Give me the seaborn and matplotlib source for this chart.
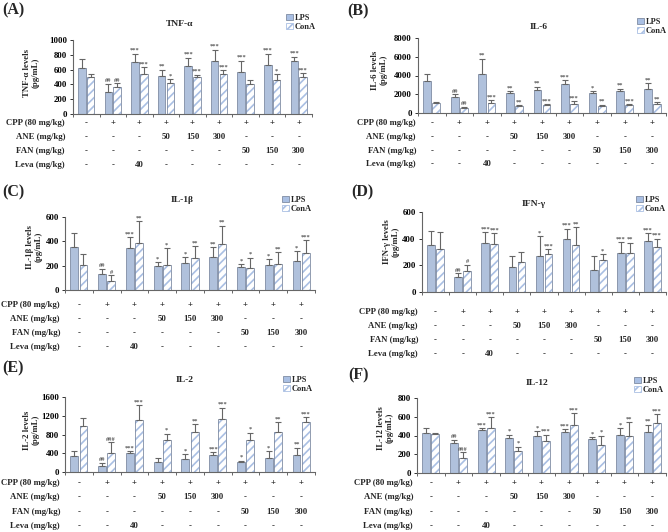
import numpy as np
import pandas as pd
import matplotlib
matplotlib.use("Agg")
import matplotlib.pyplot as plt
import matplotlib.transforms as mtransforms
from matplotlib.patches import Patch, Rectangle
import seaborn as sns

sns.set_style("white")
plt.rcParams['font.family'] = ['Liberation Serif', 'DejaVu Serif']
plt.rcParams['font.weight'] = 'bold'
plt.rcParams['hatch.linewidth'] = 1.2

# groups and treatment table
groups = ['G1', 'G2', 'G3', 'G4', 'G5', 'G6', 'G7', 'G8', 'G9']
row_names = ['CPP (80 mg/kg)', 'ANE (mg/kg)', 'FAN (mg/kg)', 'Leva (mg/kg)']
cpp = ['-', '+', '+', '+', '+', '+', '+', '+', '+']
ane = ['-', '-', '-', '50', '150', '300', '-', '-', '-']
fan = ['-', '-', '-', '-', '-', '-', '50', '150', '300']
leva = ['-', '-', '40', '-', '-', '-', '-', '-', '-']

# TNF-a
tnf_lps = [625, 300, 700, 515, 645, 720, 570, 665, 710]
tnf_lps_sd = [125, 110, 115, 85, 115, 150, 150, 150, 65]
tnf_cona = [505, 360, 545, 425, 495, 545, 400, 465, 505]
tnf_cona_sd = [40, 55, 85, 45, 35, 50, 60, 70, 50]
tnf_lps_sig = ['', '##', '***', '**', '***', '***', '***', '***', '***']
tnf_cona_sig = ['', '##', '***', '*', '***', '***', '', '*', '***']

# IL-6
il6_lps = [3400, 1700, 4150, 2150, 2450, 3100, 2100, 2300, 2600]
il6_lps_sd = [800, 300, 1650, 150, 350, 400, 200, 300, 550]
il6_cona = [1050, 550, 1050, 750, 850, 1000, 800, 900, 950]
il6_cona_sd = [150, 100, 300, 80, 70, 250, 100, 50, 200]
il6_lps_sig = ['', '##', '**', '**', '**', '***', '*', '**', '**']
il6_cona_sig = ['', '##', '***', '**', '***', '***', '**', '***', '**']

# IL-1b
il1b_lps = [355, 130, 345, 195, 220, 275, 185, 205, 235]
il1b_lps_sd = [110, 45, 90, 35, 50, 75, 25, 50, 85]
il1b_cona = [205, 70, 385, 205, 265, 375, 180, 215, 305]
il1b_cona_sd = [90, 50, 180, 140, 95, 155, 85, 95, 105]
il1b_lps_sig = ['', '##', '***', '*', '*', '**', '*', '*', '*']
il1b_cona_sig = ['', '#', '**', '*', '**', '**', '*', '**', '***']

# IFN-g
ifn_lps = [350, 115, 365, 185, 270, 400, 165, 295, 385]
ifn_lps_sd = [110, 25, 85, 85, 150, 75, 105, 80, 55]
ifn_cona = [325, 160, 360, 225, 285, 350, 240, 295, 340]
ifn_cona_sd = [125, 45, 80, 75, 35, 135, 45, 75, 60]
ifn_lps_sig = ['', '##', '***', '', '*', '***', '', '***', '***']
ifn_cona_sig = ['', '#', '***', '', '***', '**', '*', '**', '***']

# IL-2
il2_lps = [345, 130, 400, 210, 270, 370, 215, 295, 360]
il2_lps_sd = [100, 70, 40, 80, 110, 60, 30, 150, 160]
il2_cona = [985, 410, 1120, 680, 845, 1135, 675, 845, 1065]
il2_cona_sd = [160, 220, 310, 140, 180, 240, 165, 220, 100]
il2_lps_sig = ['', '##', '***', '', '*', '***', '*', '*', '**']
il2_cona_sig = ['', '###', '***', '*', '**', '***', '*', '**', '***']

# IL-12
il12_lps = [430, 315, 460, 370, 395, 440, 365, 405, 440]
il12_lps_sd = [50, 40, 20, 40, 55, 30, 15, 75, 75]
il12_cona = [415, 165, 480, 230, 345, 510, 295, 390, 535]
il12_cona_sd = [15, 55, 115, 50, 65, 130, 105, 155, 95]
il12_lps_sig = ['', '##', '***', '*', '*', '***', '*', '*', '**']
il12_cona_sig = ['', '###', '***', '*', '***', '***', '*', '**', '***']

W, H = 668, 532
BLUE = '#a9bfe3'
EDGE = '#7f8ca3'
ERR = '#666666'

fig = plt.figure(figsize=(W / 100, H / 100), dpi=100)

# panel layout in pixels: axes box (l, r, top, bottom), label, title, legend corner, ylabel, table rows
panels = [
    dict(tag='(A)', name='TNF-α', ylab='TNF-α levels\n(pg/mL)', ymax=1000, step=200,
         lps=tnf_lps, lps_sd=tnf_lps_sd, cona=tnf_cona, cona_sd=tnf_cona_sd,
         lsig=tnf_lps_sig, csig=tnf_cona_sig,
         box=(73, 312, 40, 114), tagxy=(2, 10), titlexy=(180, 24), legxy=(316, 14),
         ylabxy=(31, 73), rows=(123, 137, 151, 165), rowx=65),
    dict(tag='(B)', name='IL-6', ylab='IL-6 levels\n(pg/mL)', ymax=8000, step=2000,
         lps=il6_lps, lps_sd=il6_lps_sd, cona=il6_cona, cona_sd=il6_cona_sd,
         lsig=il6_lps_sig, csig=il6_cona_sig,
         box=(418, 666, 38, 113), tagxy=(347, 11), titlexy=(539, 27), legxy=(667, 18),
         ylabxy=(379, 70), rows=(123, 137, 151, 164), rowx=416),
    dict(tag='(C)', name='IL-1β', ylab='IL-1β levels\n(pg/mL)', ymax=600, step=200,
         lps=il1b_lps, lps_sd=il1b_lps_sd, cona=il1b_cona, cona_sd=il1b_cona_sd,
         lsig=il1b_lps_sig, csig=il1b_cona_sig,
         box=(65, 315, 217, 290), tagxy=(2, 192), titlexy=(182, 200), legxy=(312, 196),
         ylabxy=(34, 247), rows=(305, 319, 333, 347), rowx=60),
    dict(tag='(D)', name='IFN-γ', ylab='IFN-γ levels\n(pg/mL)', ymax=600, step=200,
         lps=ifn_lps, lps_sd=ifn_lps_sd, cona=ifn_cona, cona_sd=ifn_cona_sd,
         lsig=ifn_lps_sig, csig=ifn_cona_sig,
         box=(422, 666, 212, 292), tagxy=(351, 192), titlexy=(534, 204), legxy=(666, 196),
         ylabxy=(391, 242), rows=(312, 326, 340, 354), rowx=418),
    dict(tag='(E)', name='IL-2', ylab='IL-2 levels\n(pg/mL)', ymax=1600, step=400,
         lps=il2_lps, lps_sd=il2_lps_sd, cona=il2_cona, cona_sd=il2_cona_sd,
         lsig=il2_lps_sig, csig=il2_cona_sig,
         box=(65, 315, 397, 472), tagxy=(2, 368), titlexy=(185, 380), legxy=(313, 376),
         ylabxy=(31, 430), rows=(483, 497, 512, 526), rowx=60),
    dict(tag='(F)', name='IL-12', ylab='IL-12 levels\n(pg/mL)', ymax=800, step=200,
         lps=il12_lps, lps_sd=il12_lps_sd, cona=il12_cona, cona_sd=il12_cona_sd,
         lsig=il12_lps_sig, csig=il12_cona_sig,
         box=(417, 666, 398, 473), tagxy=(348, 375), titlexy=(537, 383), legxy=(664, 377),
         ylabxy=(385, 428), rows=(483, 497, 512, 526), rowx=413),
]

table = [cpp, ane, fan, leva]


def fx(px):
    return px / W


def fy(py):
    return 1 - py / H


for p in panels:
    l, r, t, b = p['box']
    ax = fig.add_axes([fx(l), fy(b), (r - l) / W, (b - t) / H])
    df = pd.DataFrame({
        'group': groups * 2,
        'stim': ['LPS'] * 9 + ['ConA'] * 9,
        'value': p['lps'] + p['cona'],
    })
    sns.barplot(data=df, x='group', y='value', hue='stim', order=groups,
                hue_order=['LPS', 'ConA'], palette=[BLUE, 'white'], width=0.66,
                gap=0.14, errorbar=None, legend=False, ax=ax,
                edgecolor=EDGE, linewidth=0.6)
    bars = ax.patches[:18]
    lps_bars, cona_bars = bars[:9], bars[9:]
    for bar in cona_bars:
        bar.set_hatch('////')
        bar.set_edgecolor(BLUE)
        bar.set_linewidth(0)
        ax.add_patch(Rectangle((bar.get_x(), bar.get_y()), bar.get_width(), bar.get_height(),
                               fill=False, edgecolor=EDGE, linewidth=0.6, zorder=bar.get_zorder() + 0.1))

    for bset, sd, sig in [(lps_bars, p['lps_sd'], p['lsig']), (cona_bars, p['cona_sd'], p['csig'])]:
        xs = [bb.get_x() + bb.get_width() / 2 for bb in bset]
        ys = [bb.get_height() for bb in bset]
        ax.errorbar(xs, ys, yerr=[np.zeros(9), sd], fmt='none', ecolor=ERR,
                    elinewidth=0.8, capsize=2.2, capthick=0.8, zorder=5)
        for xx, yy, ss, s in zip(xs, ys, sd, sig):
            if s:
                ax.annotate(s, (xx, yy + ss), xytext=(0, 0.5), textcoords='offset points',
                            ha='center', va='bottom', fontsize=4.6, color='#555555')

    ax.set_xlim(-0.5, 8.5)
    ax.set_ylim(0, p['ymax'])
    ax.set_yticks(np.arange(0, p['ymax'] + 1, p['step']))
    ax.set_xticks(np.arange(-0.5, 9, 1))
    ax.set_xticklabels([])
    ax.set_xlabel('')
    ax.set_ylabel('')
    ax.tick_params(axis='y', labelsize=6.3, length=2.5, width=0.7, pad=2, colors='#333333',
                   direction='out', left=True)
    ax.tick_params(axis='x', length=2.5, width=0.7, direction='out', bottom=True, colors='#666666')
    for lab in ax.get_yticklabels():
        lab.set_color('black')
        lab.set_fontweight('bold')
    sns.despine(ax=ax)
    for sp in ['left', 'bottom']:
        ax.spines[sp].set_color('#666666')
        ax.spines[sp].set_linewidth(0.8)

    # treatment table under the axis
    tr = mtransforms.blended_transform_factory(ax.transData, fig.transFigure)
    for name, vals, ry in zip(row_names, table, p['rows']):
        fig.text(fx(p['rowx']), fy(ry), name, ha='right', va='center', fontsize=6.3,
                 fontweight='bold')
        for i, v in enumerate(vals):
            ax.text(i, fy(ry), v, transform=tr, ha='center', va='center', fontsize=6.3,
                    fontweight='bold', clip_on=False)

    fig.text(fx(p['tagxy'][0]), fy(p['tagxy'][1]), p['tag'], ha='left', va='center',
             fontsize=11.5, fontweight='bold')
    fig.text(fx(p['titlexy'][0]), fy(p['titlexy'][1]), p['name'], ha='center', va='center',
             fontsize=6.8, fontweight='bold')
    fig.text(fx(p['ylabxy'][0]), fy(p['ylabxy'][1]), p['ylab'], ha='center', va='center',
             rotation=90, fontsize=6.3, fontweight='bold', multialignment='center',
             linespacing=1.1)

    handles = [Patch(facecolor=BLUE, edgecolor=EDGE, linewidth=0.6, label='LPS'),
               Patch(facecolor='white', edgecolor=BLUE, hatch='////', linewidth=0.6, label='ConA')]
    ax.legend(handles=handles, loc='upper right', bbox_to_anchor=(fx(p['legxy'][0]), fy(p['legxy'][1])),
              bbox_transform=fig.transFigure, frameon=False, fontsize=6, handlelength=0.8,
              handleheight=0.8, handletextpad=0.25, labelspacing=0.1, borderpad=0,
              borderaxespad=0)

fig.savefig('out.png', dpi=100)
